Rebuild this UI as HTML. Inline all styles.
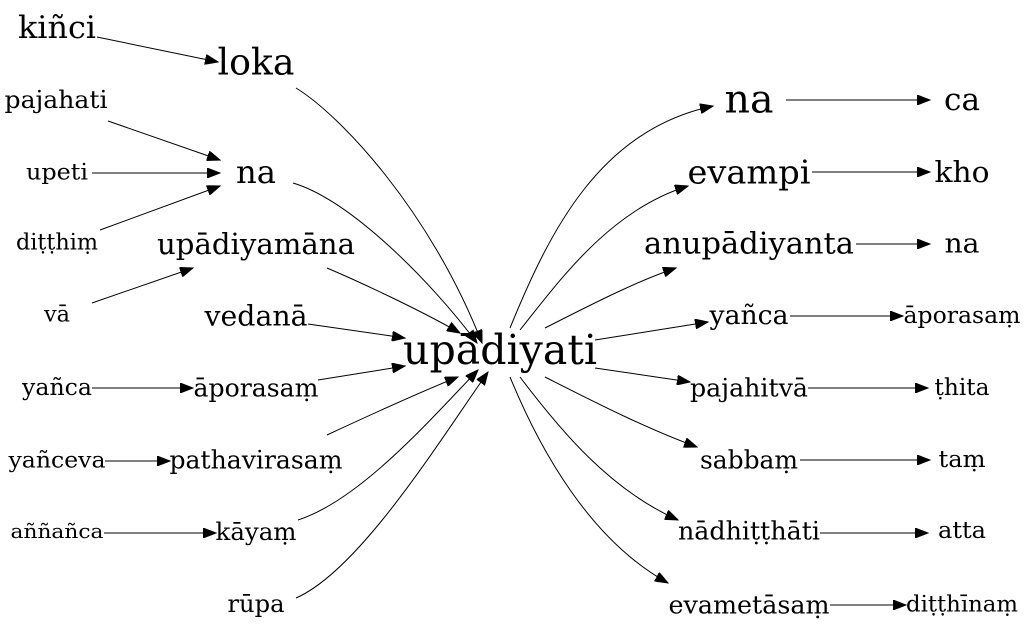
<!DOCTYPE html>
<html><head><meta charset="utf-8"><style>
html,body{margin:0;padding:0;background:#fff;}
svg{display:block;}
text{font-family:"DejaVu Serif","Liberation Serif",serif;fill:#000;text-anchor:middle;dominant-baseline:central;}
path{fill:none;stroke:#000;stroke-width:1;}
</style></head><body>
<svg width="1027" height="635" viewBox="0 0 1027 635" xmlns="http://www.w3.org/2000/svg">
<defs><marker id="a" markerUnits="userSpaceOnUse" markerWidth="14" markerHeight="10" refX="13" refY="5" orient="auto"><path d="M0,0 L13,5 L0,10 Z" style="fill:#000;stroke:#000"/></marker></defs>
<g marker-end="url(#a)">
<path d="M97,37 L218,62"/>
<path d="M108,121 L220,160"/>
<path d="M92,173 L220,173"/>
<path d="M100,230 L220,186"/>
<path d="M92,303 L193,268"/>
<path d="M92,388 L193,388"/>
<path d="M105,461 L170,461"/>
<path d="M104,533 L216,533"/>
<path d="M296,88 C340,115 430,210 482,343"/>
<path d="M293,183 C350,200 430,280 477,343"/>
<path d="M327,268 C360,282 420,310 460,333"/>
<path d="M308,324 L405,338"/>
<path d="M318,380 L405,366"/>
<path d="M327,435 C370,415 420,392 458,377"/>
<path d="M298,520 C360,500 430,420 478,370"/>
<path d="M296,598 C360,570 440,440 488,372"/>
<path d="M510,328 C550,230 600,130 713,106"/>
<path d="M520,330 C560,280 610,210 688,186"/>
<path d="M545,328 C600,300 640,280 676,268"/>
<path d="M595,340 L708,322"/>
<path d="M595,368 L690,382"/>
<path d="M545,377 C600,405 650,430 697,447"/>
<path d="M520,377 C560,430 610,490 678,520"/>
<path d="M510,377 C540,450 590,540 668,583"/>
<path d="M786,100 L930,100"/>
<path d="M812,172 L930,172"/>
<path d="M856,244 L930,244"/>
<path d="M790,316 L903,316"/>
<path d="M808,388 L928,388"/>
<path d="M800,460 L930,460"/>
<path d="M820,533 L928,533"/>
<path d="M830,605 L906,605"/>
</g>
<g lengthAdjust="spacingAndGlyphs">
<text x="57" y="28" font-size="31" textLength="78" lengthAdjust="spacingAndGlyphs">kiñci</text>
<text x="256" y="63" font-size="36" textLength="77" lengthAdjust="spacingAndGlyphs">loka</text>
<text x="56" y="100" font-size="24" textLength="103" lengthAdjust="spacingAndGlyphs">pajahati</text>
<text x="256" y="172" font-size="32" textLength="40" lengthAdjust="spacingAndGlyphs">na</text>
<text x="57" y="173" font-size="22" textLength="62" lengthAdjust="spacingAndGlyphs">upeti</text>
<text x="57" y="243" font-size="22" textLength="82" lengthAdjust="spacingAndGlyphs">diṭṭhiṃ</text>
<text x="256" y="244" font-size="29" textLength="198" lengthAdjust="spacingAndGlyphs">upādiyamāna</text>
<text x="57" y="315" font-size="22" textLength="26" lengthAdjust="spacingAndGlyphs">vā</text>
<text x="256" y="316" font-size="28" textLength="103" lengthAdjust="spacingAndGlyphs">vedanā</text>
<text x="57" y="388" font-size="23" textLength="70" lengthAdjust="spacingAndGlyphs">yañca</text>
<text x="256" y="388" font-size="25" textLength="125" lengthAdjust="spacingAndGlyphs">āporasaṃ</text>
<text x="57" y="461" font-size="22" textLength="97" lengthAdjust="spacingAndGlyphs">yañceva</text>
<text x="256" y="460" font-size="25" textLength="173" lengthAdjust="spacingAndGlyphs">pathavirasaṃ</text>
<text x="57" y="531" font-size="20" textLength="93" lengthAdjust="spacingAndGlyphs">aññañca</text>
<text x="256" y="532" font-size="24" textLength="81" lengthAdjust="spacingAndGlyphs">kāyaṃ</text>
<text x="256" y="604" font-size="24" textLength="57" lengthAdjust="spacingAndGlyphs">rūpa</text>
<text x="500" y="350" font-size="41" textLength="194" lengthAdjust="spacingAndGlyphs">upādiyati</text>
<text x="749" y="100" font-size="39" textLength="49" lengthAdjust="spacingAndGlyphs">na</text>
<text x="962" y="100" font-size="31" textLength="36" lengthAdjust="spacingAndGlyphs">ca</text>
<text x="749" y="172" font-size="33" textLength="123" lengthAdjust="spacingAndGlyphs">evampi</text>
<text x="962" y="172" font-size="29" textLength="55" lengthAdjust="spacingAndGlyphs">kho</text>
<text x="749" y="244" font-size="30" textLength="210" lengthAdjust="spacingAndGlyphs">anupādiyanta</text>
<text x="962" y="244" font-size="27" textLength="35" lengthAdjust="spacingAndGlyphs">na</text>
<text x="749" y="316" font-size="26" textLength="79" lengthAdjust="spacingAndGlyphs">yañca</text>
<text x="962" y="316" font-size="23" textLength="117" lengthAdjust="spacingAndGlyphs">āporasaṃ</text>
<text x="749" y="388" font-size="25" textLength="118" lengthAdjust="spacingAndGlyphs">pajahitvā</text>
<text x="962" y="388" font-size="23" textLength="55" lengthAdjust="spacingAndGlyphs">ṭhita</text>
<text x="749" y="460" font-size="25" textLength="98" lengthAdjust="spacingAndGlyphs">sabbaṃ</text>
<text x="962" y="460" font-size="23" textLength="47" lengthAdjust="spacingAndGlyphs">taṃ</text>
<text x="749" y="531" font-size="25" textLength="142" lengthAdjust="spacingAndGlyphs">nādhiṭṭhāti</text>
<text x="962" y="531" font-size="23" textLength="48" lengthAdjust="spacingAndGlyphs">atta</text>
<text x="749" y="605" font-size="25" textLength="161" lengthAdjust="spacingAndGlyphs">evametāsaṃ</text>
<text x="962" y="605" font-size="22" textLength="112" lengthAdjust="spacingAndGlyphs">diṭṭhīnaṃ</text>
</g>
</svg>
</body></html>
